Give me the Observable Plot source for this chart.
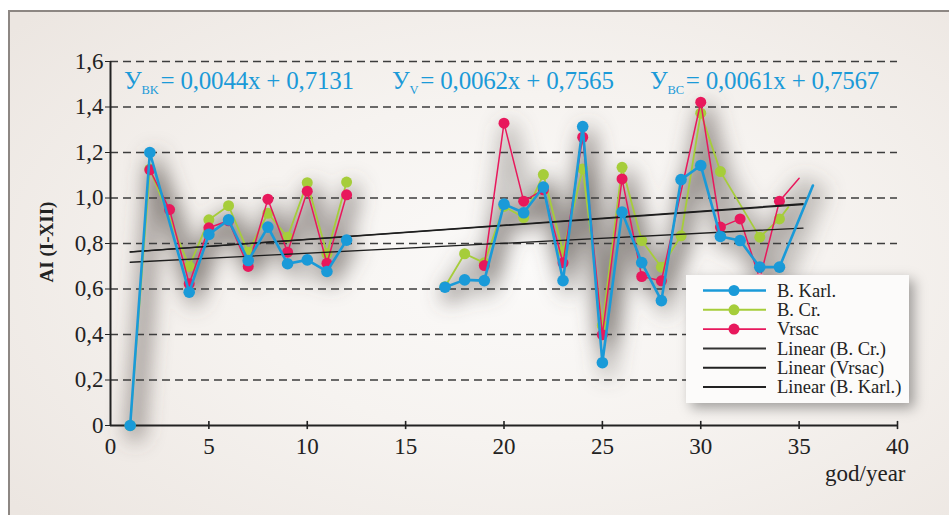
<!DOCTYPE html>
<html>
<head>
<meta charset="utf-8">
<script src="https://cdn.jsdelivr.net/npm/d3@7"></script>
<script src="https://cdn.jsdelivr.net/npm/@observablehq/plot@0.6"></script>
<style>
  html, body { margin: 0; padding: 0; width: 949px; height: 515px; overflow: hidden; background: #fff; }
  #frame { position: absolute; left: 8px; top: 10px; width: 945px; height: 510px;
    border-left: 2px solid #8d8783; border-top: 2px solid #8d8783;
    background: radial-gradient(ellipse 70% 75% at 55% 50%, #fbfaf9 0%, #f6f3f0 45%, #ece6e1 100%); }
  #chart { position: absolute; left: 0; top: 0; }
  .eq { position: absolute; font-family: "Liberation Serif", serif; font-size: 25px; color: #1b9ad8; white-space: nowrap; letter-spacing: -0.2px; }
  .eq sub { font-size: 12.5px; vertical-align: -5px; margin-right: 2px; }
  #legend { position: absolute; left: 686px; top: 275px; width: 223px; height: 128px;
    background: #fcfbfa; box-shadow: 5px 5px 12px rgba(0,0,0,0.35); }
  #ytitle { position: absolute; left: 47px; top: 242px; transform: translate(-50%, -50%) rotate(-90deg);
    font-family: "Liberation Serif", serif; font-weight: bold; font-size: 19px; color: #222; white-space: nowrap; }
</style>
</head>
<body>
<div id="frame"></div>
<div id="chart"></div>
<div id="ytitle">AI (I-XII)</div>
<div class="eq" style="left:124px; top:67px">У<sub>BK</sub>= 0,0044x + 0,7131</div>
<div class="eq" style="left:392px; top:67px">У<sub>V</sub>= 0,0062x + 0,7565</div>
<div class="eq" style="left:650px; top:67px">У<sub>BC</sub>= 0,0061x + 0,7567</div>
<div id="legend"></div>
<script>
// ---- data ----
const xTicks = [0, 5, 10, 15, 20, 25, 30, 35, 40];
const yTicks = [0, 0.2, 0.4, 0.6, 0.8, 1.0, 1.2, 1.4, 1.6];
const yTickLabels = ["0", "0,2", "0,4", "0,6", "0,8", "1,0", "1,2", "1,4", "1,6"];

const seriesNames = ["B. Karl.", "B. Cr.", "Vrsac"];
const trendNames = ["Linear (B. Cr.)", "Linear (Vrsac)", "Linear (B. Karl.)"];

// B. Karl. (blue)
const bkYears = [1, 2, 4, 5, 6, 7, 8, 9, 10, 11, 12, 17, 18, 19, 20, 21, 22, 23, 24, 25, 26, 27, 28, 29, 30, 31, 32, 33, 34];
const bkVals  = [0, 1.20, 0.586, 0.840, 0.904, 0.725, 0.872, 0.711, 0.728, 0.677, 0.815, 0.608, 0.640, 0.637, 0.973, 0.935, 1.048, 0.637, 1.314, 0.276, 0.938, 0.716, 0.549, 1.081, 1.143, 0.831, 0.813, 0.696, 0.696];
const bkLineEnd = [35.7, 1.055];

// B. Cr. (green)
const bcYears = [1, 2, 4, 5, 6, 7, 8, 9, 10, 11, 12, 17, 18, 19, 20, 21, 22, 23, 24, 25, 26, 27, 28, 29, 30, 31, 33, 34];
const bcVals  = [0, 1.127, 0.699, 0.904, 0.966, 0.762, 0.933, 0.828, 1.067, 0.755, 1.070, 0.610, 0.755, 0.715, 0.963, 0.914, 1.103, 0.765, 1.128, 0.440, 1.135, 0.813, 0.696, 0.834, 1.373, 1.116, 0.828, 0.908];
const bcLineEnd = [34.45, 0.96];

// Vrsac (red)
const vrYears = [2, 3, 4, 5, 6, 7, 8, 9, 10, 11, 12, 19, 20, 21, 22, 23, 24, 25, 26, 27, 28, 30, 31, 32, 33, 34];
const vrVals  = [1.124, 0.949, 0.623, 0.869, 0.900, 0.699, 0.995, 0.762, 1.030, 0.713, 1.014, 0.703, 1.329, 0.986, 1.036, 0.715, 1.267, 0.399, 1.084, 0.655, 0.636, 1.421, 0.872, 0.908, 0.645, 0.986];
const vrLineEnd = [35.0, 1.087];
const vrHighlightYears = [33];

// missing years (no data) break the lines
const gapYears = [13, 14, 15, 16];

// linear trends: slope, intercept (from the equations)
const trendSlopes = [0.0061, 0.0062, 0.0044];
const trendIntercepts = [0.7567, 0.7565, 0.7131];
const trendRange = [1, 35.2];

// ---- styles ----
const BLUE = "#1a9ad8", GREEN = "#a6cd3a", RED = "#e8185c", PINK = "#f4a9bd";
const FONT = "Liberation Serif, Times New Roman, serif";

const gapEnd = Math.max(...gapYears);
const toRows = (xs, ys) => xs.map((x, i) => ({x, y: ys[i], seg: x > gapEnd ? 1 : 0}));
const bk = toRows(bkYears, bkVals);
const bc = toRows(bcYears, bcVals);
const vr = toRows(vrYears, vrVals);
const bkLine = bk.concat([{x: bkLineEnd[0], y: bkLineEnd[1], seg: 1}]);
const bcLine = bc.concat([{x: bcLineEnd[0], y: bcLineEnd[1], seg: 1}]);
const vrLine = vr.concat([{x: vrLineEnd[0], y: vrLineEnd[1], seg: 1}]);
const trends = trendSlopes.flatMap((a, k) => trendRange.map(x => ({k, x, y: a * x + trendIntercepts[k]})));

const gridTicks = yTicks.filter(d => d > 0);
const shadowData = [...bcLine.map(d => ({...d, s: "bc" + d.seg})), ...vrLine.map(d => ({...d, s: "vr" + d.seg})), ...bkLine.map(d => ({...d, s: "bk" + d.seg}))];

const chart = Plot.plot({
  width: 949, height: 515,
  marginLeft: 110, marginRight: 52, marginTop: 61, marginBottom: 90,
  style: {background: "transparent", fontFamily: FONT, fontSize: "23px", color: "#222", overflow: "visible"},
  x: {domain: [0, 40], ticks: xTicks, tickSize: 0, tickPadding: 12, label: null},
  y: {domain: [0, 1.6], ticks: yTicks, tickFormat: d => yTickLabels[yTicks.indexOf(d)], tickSize: 5, tickPadding: 2, label: null},
  marks: [
    Plot.line(shadowData, {x: "x", y: "y", z: "s", stroke: "#5a5550", strokeOpacity: 0.33, strokeWidth: 18, dx: 5, dy: 7, ariaDescription: "shadow"}),
    Plot.ruleY(gridTicks, {stroke: "#3d3d3d", strokeWidth: 1.4, strokeDasharray: "8,5"}),
    Plot.ruleY([0], {stroke: "#222", strokeWidth: 2}),
    Plot.ruleX([0], {stroke: "#222", strokeWidth: 2}),
    Plot.ruleX(xTicks.filter(d => d > 0), {y1: -0.018, y2: 0.018, stroke: "#222", strokeWidth: 1.6}),
    Plot.line(bcLine, {x: "x", y: "y", z: "seg", stroke: GREEN, strokeWidth: 1.8}),
    Plot.dot(bc, {x: "x", y: "y", r: 5.5, fill: GREEN}),
    Plot.line(vrLine, {x: "x", y: "y", z: "seg", stroke: RED, strokeWidth: 1.5}),
    Plot.dot(vr, {x: "x", y: "y", r: 5.5, fill: d => vrHighlightYears.includes(d.x) ? PINK : RED}),
    Plot.line(trends, {x: "x", y: "y", z: "k", stroke: "#1e1e1e", strokeWidth: 1.3}),
    Plot.line(bkLine, {x: "x", y: "y", z: "seg", stroke: BLUE, strokeWidth: 2.6}),
    Plot.dot(bk, {x: "x", y: "y", r: 5.8, fill: BLUE}),
    Plot.text(["god/year"], {x: 40, y: 0, text: d => d, textAnchor: "end", dx: 8, dy: 48, fontSize: 23, fill: "#222"})
  ]
});

// blur the shadow layer
const svg = d3.select(chart);
const defs = svg.insert("defs", ":first-child");
defs.append("filter").attr("id", "shadowBlur").attr("x", "-20%").attr("y", "-30%").attr("width", "140%").attr("height", "160%")
  .append("feGaussianBlur").attr("stdDeviation", 10);
svg.selectAll('g[aria-description="shadow"]').attr("filter", "url(#shadowBlur)");
document.getElementById("chart").appendChild(chart);

// ---- legend ----
const legendItems = [
  {name: seriesNames[0], color: BLUE, width: 2.6, dot: true},
  {name: seriesNames[1], color: GREEN, width: 2, dot: true},
  {name: seriesNames[2], color: RED, width: 1.6, dot: true},
  {name: trendNames[0], color: "#333", width: 2, dot: false},
  {name: trendNames[1], color: "#222", width: 2, dot: false},
  {name: trendNames[2], color: "#222", width: 2, dot: false}
];
const lg = d3.select("#legend").append("svg").attr("width", 223).attr("height", 128).style("display", "block");
legendItems.forEach((it, i) => {
  const cy = 15.5 + i * 19.3;
  lg.append("line").attr("x1", 17).attr("x2", 80).attr("y1", cy).attr("y2", cy)
    .attr("stroke", it.color).attr("stroke-width", it.width);
  if (it.dot) lg.append("circle").attr("cx", 48).attr("cy", cy).attr("r", 5.5).attr("fill", it.color);
  lg.append("text").attr("x", 91).attr("y", cy).attr("dy", "0.34em")
    .attr("font-family", FONT).attr("font-size", 18.5).attr("fill", "#222").text(it.name);
});
</script>
</body>
</html>
